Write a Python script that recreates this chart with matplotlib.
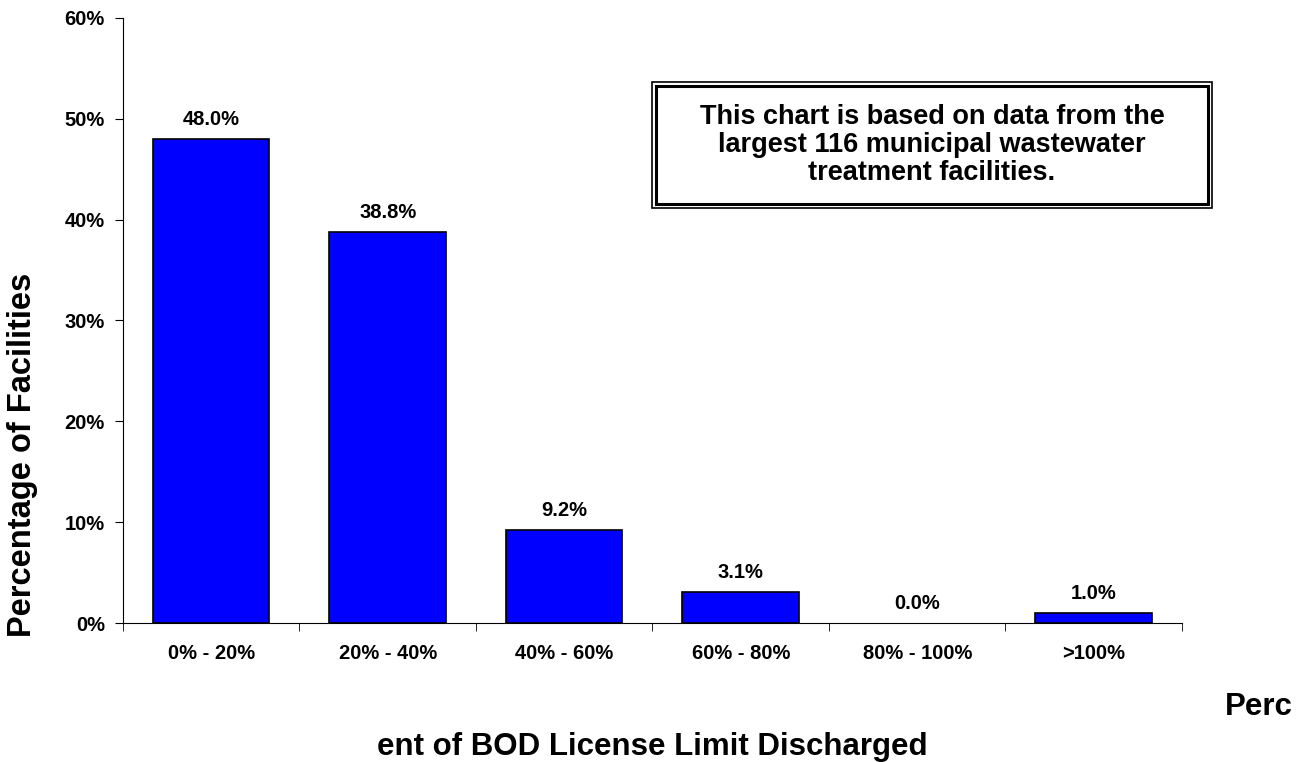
import matplotlib.pyplot as plt
from matplotlib.patches import Rectangle

plt.rcParams['font.family'] = ['Liberation Sans', 'DejaVu Sans']
plt.rcParams['font.weight'] = 'bold'

categories = ['0% - 20%', '20% - 40%', '40% - 60%', '60% - 80%', '80% - 100%', '>100%']
values = [48.0, 38.8, 9.2, 3.1, 0.0, 1.0]
yticks = [0, 10, 20, 30, 40, 50, 60]

fig = plt.figure(figsize=(13, 7.62), dpi=100)
ax = fig.add_axes([0.0946, 0.1824, 0.8146, 0.794])

x = range(len(categories))
# no outline on empty bars
lw = [1.2 if v > 0 else 0 for v in values]
ax.bar(x, values, width=0.66, color='#0000FF', edgecolor='black', linewidth=lw)

for i, v in enumerate(values):
    ax.text(i, v + 1.0, f'{v:.1f}%', ha='center', va='bottom', fontsize=14.5, fontweight='bold')

ax.set_xlim(-0.5, len(categories) - 0.5)
ax.set_ylim(0, 60)
ax.set_yticks(yticks)
ax.set_yticklabels([f'{t}%' for t in yticks], fontsize=14.5, fontweight='bold')
ax.set_xticks(list(x))
ax.set_xticklabels(categories, fontsize=14.5, fontweight='bold')
ax.set_xticks([i - 0.5 for i in range(len(categories) + 1)], minor=True)
ax.tick_params(axis='x', which='major', length=0, pad=15)
ax.tick_params(axis='x', which='minor', length=6, direction='out')
ax.tick_params(axis='y', length=6, direction='out', pad=7)

ax.spines['top'].set_visible(False)
ax.spines['right'].set_visible(False)

# y label sits lower than axis centre in the original
fig.text(23 / 1300, 1 - 455 / 762, 'Percentage of Facilities', rotation=90,
         fontsize=23.5, fontweight='bold', ha='center', va='center')

# x label is split oddly in the original
fig.text(1225 / 1300, 1 - 707 / 762, 'Perc', fontsize=22.5, fontweight='bold', ha='left', va='center')
fig.text(652 / 1300, 1 - 747 / 762, 'ent of BOD License Limit Discharged', fontsize=22.5,
         fontweight='bold', ha='center', va='center')

# double-bordered note box
bx0, by0, bx1, by1 = 652 / 1300, 1 - 208 / 762, 1212 / 1300, 1 - 82 / 762
fig.patches.append(Rectangle((bx0, by0), bx1 - bx0, by1 - by0, transform=fig.transFigure,
                             fill=True, facecolor='white', edgecolor='black', linewidth=1.2))
d = 4 / 1300
dy = 4 / 762
fig.patches.append(Rectangle((bx0 + d, by0 + dy), bx1 - bx0 - 2 * d, by1 - by0 - 2 * dy,
                             transform=fig.transFigure, fill=False, edgecolor='black', linewidth=2.2))
fig.text((bx0 + bx1) / 2, (by0 + by1) / 2,
         'This chart is based on data from the\nlargest 116 municipal wastewater\ntreatment facilities.',
         ha='center', va='center', fontsize=19.5, fontweight='bold', linespacing=1.12)

fig.savefig('out.png', dpi=100)
